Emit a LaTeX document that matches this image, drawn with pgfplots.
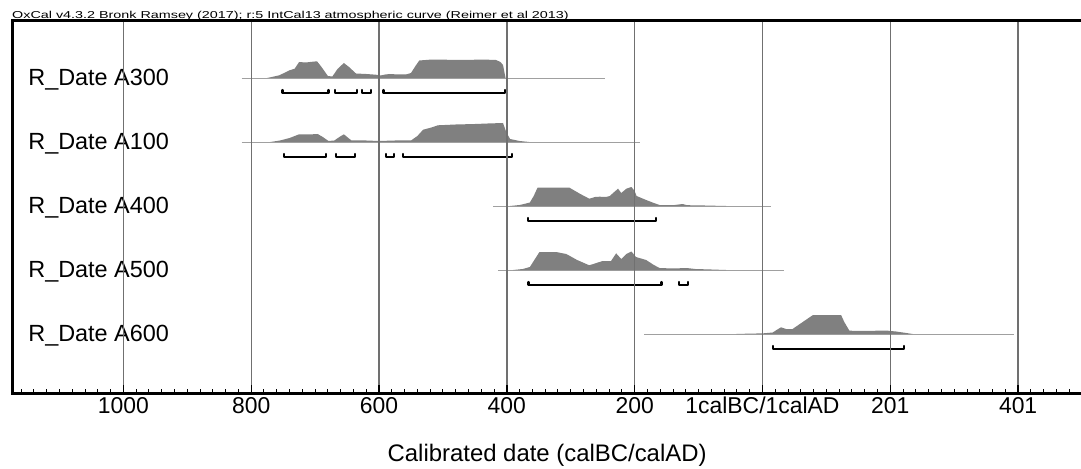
\documentclass[border=0pt]{standalone}
\usepackage{fontspec}
\setmainfont{Liberation Sans}
\usepackage{pgfplots}
\usepackage{pgfplotstable}
\pgfplotsset{compat=1.18}

\definecolor{distGray}{HTML}{808080}
\definecolor{gridGray}{HTML}{707070}
\definecolor{lineGray}{HTML}{A0A0A0}

% probability curves: t = year (BC negative), h = height above the row line
\pgfplotstableread{
t h
-775 0
-756 2.7
-740 7.7
-732 9.3
-725 16
-715 15.5
-705 16.2
-697 16.7
-690 11
-680 2
-673 1.5
-665 9
-655 15
-647 11
-636 4.5
-620 4
-605 3.3
-598 2.5
-590 3.5
-583 4
-570 3.5
-558 3.5
-550 5
-543 12
-537 17.5
-521 18.3
-470 18.2
-430 18.3
-417 18
-410 16
-406 13
-402 0
}\dataA
\pgfplotstableread{
t h
-770 0
-755 1.5
-740 4
-725 7.7
-710 7.5
-696 8
-688 5
-679 1
-670 1.5
-662 5
-655 7.7
-648 4
-643 1.5
-620 1.5
-600 1
-575 1.5
-550 1.5
-540 6
-531 12.3
-518 14.5
-508 16.7
-480 17.5
-450 18
-430 18.5
-406 19
-401 10
-395 3
-380 1
-365 0
}\dataB
\pgfplotstableread{
t h
-395 0
-380 1
-370 2.5
-364 3.5
-358 10
-352 18.3
-330 18.5
-302 18.3
-285 12
-271 7.3
-262 9
-255 9.3
-245 9
-239 10
-232 14
-226 17.3
-221 13
-213 17.3
-205 19
-200 15
-197 10
-182 6
-170 3
-161 1
-140 0.8
-125 2
-118 0.8
-90 0.5
-57 0
}\dataC
\pgfplotstableread{
t h
-390 0
-375 1
-364 3
-357 10
-349 18
-323 18
-307 16
-290 10
-271 4.7
-260 7
-250 9
-237 9
-229 16.7
-221 11
-213 16
-205 18.5
-198 13
-182 10
-170 5
-161 2
-140 1.5
-119 2
-105 1
-80 0.5
-57 0
}\dataD
\pgfplotstableread{
t h
-41 0
-20 0.4
0 0.6
16 1.5
22 4
29 6.7
37 5
47 5
63 12
79 19
123 19
128 12
136 3.3
160 3
193 3.5
209 2.5
225 1
235 0
}\dataE

\pgfplotsset{
  dist/.style={fill=distGray, draw=none},
  range/.style={black, line width=2.2bp, line join=round, line cap=round},
  span/.style={lineGray, line width=0.9bp},
}

\begin{document}
\begin{tikzpicture}
\begin{axis}[
    scale only axis,
    width=1069bp, height=372bp,
    xmin=-1174.3, xmax=498.4,
    ymin=0, ymax=372,
    clip=false,
    axis on top,
    axis x line*=box, axis y line*=left,
    axis line style={-, black, line width=3bp, line cap=rect},
    every outer x axis line/.append style={-},
    every outer y axis line/.append style={-},
    xtick pos=bottom,
    ytick=\empty,
    xtick={-1000,-800,-600,-400,-200,0,200,400},
    xticklabels={1000,800,600,400,200,1calBC/1calAD,201,401},
    minor xtick={-1160,-1140,...,480},
    tick align=inside,
    major tick length=8bp, minor tick length=4bp,
    major tick style={black, line width=1.3bp},
    minor tick style={black, line width=1bp},
    xmajorgrids,
    major grid style={gridGray, line width=1.4bp},
    xticklabel style={font=\fontsize{23}{27}\selectfont, inner sep=0pt,
      anchor=north, text height=16.5bp, text depth=0pt, yshift=-4bp},
]
  % row lines
  \addplot[span] coordinates {(-815,315) (-246,315)};
  \addplot[span] coordinates {(-815,251) (-192,251)};
  \addplot[span] coordinates {(-421,187) (14,187)};
  \addplot[span] coordinates {(-414,123) (33,123)};
  \addplot[span] coordinates {(-185,59) (394,59)};

  % distributions
  \addplot[dist] table[x=t, y expr=\thisrow{h}+315] {\dataA} -- cycle;
  \addplot[dist] table[x=t, y expr=\thisrow{h}+251] {\dataB} -- cycle;
  \addplot[dist] table[x=t, y expr=\thisrow{h}+187] {\dataC} -- cycle;
  \addplot[dist] table[x=t, y expr=\thisrow{h}+123] {\dataD} -- cycle;
  \addplot[dist] table[x=t, y expr=\thisrow{h}+59] {\dataE} -- cycle;

  % 95.4% ranges
  \addplot[range] coordinates {(-751,303) (-751,300) (-679,300) (-679,303)};
  \addplot[range] coordinates {(-669,303) (-669,300) (-634,300) (-634,303)};
  \addplot[range] coordinates {(-627,303) (-627,300) (-612,300) (-612,303)};
  \addplot[range] coordinates {(-593,303) (-593,300) (-403,300) (-403,303)};

  \addplot[range] coordinates {(-749,239) (-749,236) (-683,236) (-683,239)};
  \addplot[range] coordinates {(-667,239) (-667,236) (-638,236) (-638,239)};
  \addplot[range] coordinates {(-589,239) (-589,236) (-577,236) (-577,239)};
  \addplot[range] coordinates {(-563,239) (-563,236) (-392,236) (-392,239)};

  \addplot[range] coordinates {(-367,175) (-367,172) (-167,172) (-167,175)};

  \addplot[range] coordinates {(-366,111) (-366,108) (-158,108) (-158,111)};
  \addplot[range] coordinates {(-131,111) (-131,108) (-117,108) (-117,111)};

  \addplot[range] coordinates {(16,47) (16,44) (221,44) (221,47)};

  % row names
  \begin{scope}[every node/.style={anchor=base west, inner sep=0pt,
      font=\fontsize{23.5}{28}\selectfont}]
    \node at (axis cs:-1149,307.6) {R\_Date A300};
    \node at (axis cs:-1149,243.6) {R\_Date A100};
    \node at (axis cs:-1149,179.6) {R\_Date A400};
    \node at (axis cs:-1149,115.6) {R\_Date A500};
    \node at (axis cs:-1149,51.6) {R\_Date A600};
  \end{scope}

  \node[font=\fontsize{24}{28}\selectfont, anchor=center]
    at (axis cs:-337,-62) {Calibrated date (calBC/calAD)};
\end{axis}
\node[anchor=base west, inner sep=0pt, font=\fontsize{14.4}{16}\selectfont]
  at ([shift={(0bp,2.5bp)}]current axis.north west)
  {\scalebox{1}[0.7]{OxCal v4.3.2 Bronk Ramsey (2017); r:5 IntCal13 atmospheric curve (Reimer et al 2013)}};
\pgfresetboundingbox
\path ([shift={(-12bp,-75bp)}]current axis.south west)
  rectangle ([shift={(0bp,21bp)}]current axis.north east);
\end{tikzpicture}
\end{document}
